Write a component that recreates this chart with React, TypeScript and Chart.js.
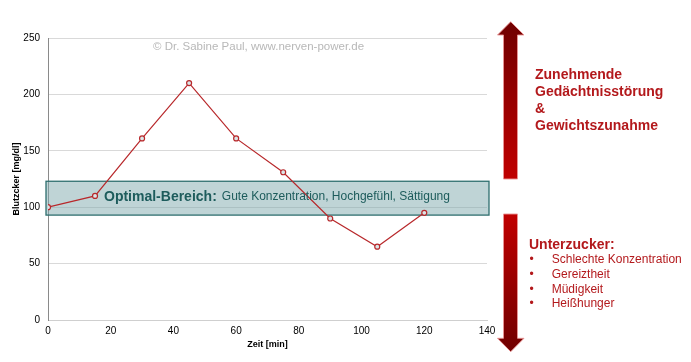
import React, { useEffect, useRef } from "react";
import { Chart, registerables } from "chart.js";

Chart.register(...registerables);

const timeMin = [0, 15, 30, 45, 60, 75, 90, 105, 120];
const glucose = [100, 110, 161, 210, 161, 131, 90, 65, 95];
const optimalRange = [93, 123];
const optimalTitle = "Optimal-Bereich:";
const optimalText = "Gute Konzentration, Hochgefühl, Sättigung";
const watermark = "© Dr. Sabine Paul, www.nerven-power.de";
const upperLines = ["Zunehmende", "Gedächtnisstörung", "&", "Gewichtszunahme"];
const lowerTitle = "Unterzucker:";
const lowerItems = ["Schlechte Konzentration", "Gereiztheit", "Müdigkeit", "Heißhunger"];

const FONT = "'Liberation Sans', Arial, Helvetica, sans-serif";
const RED_TEXT = "#b3191c";

function drawArrow(ctx: CanvasRenderingContext2D, up: boolean, bodyTop: number, bodyBottom: number, tip: number) {
  const bl = 503.5, br = 517.5, hl = 497.5, hr = 524, cx = 510.7;
  ctx.save();
  ctx.beginPath();
  if (up) {
    ctx.moveTo(bl, bodyBottom);
    ctx.lineTo(bl, bodyTop);
    ctx.lineTo(hl, bodyTop);
    ctx.lineTo(cx, tip);
    ctx.lineTo(hr, bodyTop);
    ctx.lineTo(br, bodyTop);
    ctx.lineTo(br, bodyBottom);
  } else {
    ctx.moveTo(bl, bodyTop);
    ctx.lineTo(bl, bodyBottom);
    ctx.lineTo(hl, bodyBottom);
    ctx.lineTo(cx, tip);
    ctx.lineTo(hr, bodyBottom);
    ctx.lineTo(br, bodyBottom);
    ctx.lineTo(br, bodyTop);
  }
  ctx.closePath();
  const g = up
    ? ctx.createLinearGradient(0, tip, 0, bodyBottom)
    : ctx.createLinearGradient(0, bodyTop, 0, tip);
  if (up) {
    g.addColorStop(0, "#700000");
    g.addColorStop(1, "#c00000");
  } else {
    g.addColorStop(0, "#c00000");
    g.addColorStop(1, "#700000");
  }
  ctx.fillStyle = g;
  ctx.fill();
  ctx.strokeStyle = "rgba(235,150,150,0.9)";
  ctx.lineWidth = 1;
  ctx.stroke();
  ctx.restore();
}

const overlayPlugin = {
  id: "overlay",
  beforeDatasetsDraw(chart: any) {
    const { ctx, scales } = chart;
    const x0 = scales.x.getPixelForValue(0) - 2;
    const x1 = scales.x.getPixelForValue(140) + 2;
    const yTop = scales.y.getPixelForValue(optimalRange[1]);
    const yBot = scales.y.getPixelForValue(optimalRange[0]);
    ctx.save();
    ctx.fillStyle = "rgba(127,170,173,0.5)";
    ctx.fillRect(x0, yTop, x1 - x0, yBot - yTop);
    ctx.strokeStyle = "#2f6f6f";
    ctx.lineWidth = 1.3;
    ctx.strokeRect(x0, yTop, x1 - x0, yBot - yTop);
    ctx.restore();
  },
  afterDatasetsDraw(chart: any) {
    const { ctx, scales } = chart;
    const yTop = scales.y.getPixelForValue(optimalRange[1]);
    const yBot = scales.y.getPixelForValue(optimalRange[0]);
    const yMid = (yTop + yBot) / 2 - 1;
    ctx.save();
    ctx.textBaseline = "middle";
    ctx.textAlign = "left";
    ctx.fillStyle = "#1d5c5c";
    ctx.font = `bold 14px ${FONT}`;
    ctx.fillText(optimalTitle, 104, yMid);
    const w = ctx.measureText(optimalTitle).width;
    ctx.font = `12px ${FONT}`;
    ctx.fillText(optimalText, 104 + w + 5, yMid);

    ctx.fillStyle = "#b8b8b8";
    ctx.font = `11.5px ${FONT}`;
    ctx.fillText(watermark, 153, 47);

    drawArrow(ctx, true, 35, 179, 21.7);
    drawArrow(ctx, false, 214, 338.3, 351.7);

    ctx.fillStyle = RED_TEXT;
    ctx.font = `bold 14px ${FONT}`;
    upperLines.forEach((t, i) => ctx.fillText(t, 535, 75 + i * 17));
    ctx.fillText(lowerTitle, 529, 245);
    ctx.font = `12px ${FONT}`;
    lowerItems.forEach((t, i) => {
      const y = 260 + i * 14.7;
      ctx.fillText("•", 529.5, y);
      ctx.fillText(t, 551.7, y);
    });
    ctx.restore();
  },
};

export default function App() {
  const ref = useRef<HTMLCanvasElement | null>(null);
  useEffect(() => {
    document.body.style.margin = "0";
    if (!ref.current) return;
    Chart.defaults.font.family = FONT;
    const chart = new Chart(ref.current, {
      type: "line",
      data: {
        datasets: [
          {
            data: timeMin.map((t, i) => ({ x: t, y: glucose[i] })),
            borderColor: "#b8282b",
            borderWidth: 1.2,
            pointRadius: 2.5,
            pointBorderWidth: 1.2,
            pointBorderColor: "#b8282b",
            pointBackgroundColor: "#dbe5e7",
            tension: 0,
          },
        ],
      },
      options: {
        responsive: false,
        animation: false,
        layout: { padding: { left: 0, right: 204, top: 38, bottom: 0 } },
        plugins: { legend: { display: false }, tooltip: { enabled: false } },
        scales: {
          x: {
            type: "linear",
            min: 0,
            max: 140,
            ticks: { stepSize: 20, color: "#000", font: { size: 10 }, padding: 5 },
            grid: { display: false, drawTicks: false },
            border: { color: "#cfcfcf", width: 1 },
            title: { display: true, text: "Zeit [min]", color: "#000", font: { size: 9, weight: "bold" }, padding: { top: 0, bottom: 12.5 } },
            afterFit: (s: any) => { s.height = 42; },
          },
          y: {
            min: 0,
            max: 250,
            ticks: { stepSize: 50, color: "#000", font: { size: 10 }, padding: 8 },
            grid: { color: "#d9d9d9", drawTicks: false },
            border: { color: "#8a8a8a", width: 1 },
            title: { display: true, text: "Blutzcker [mg/dl]", color: "#000", font: { size: 9, weight: "bold" }, padding: { top: 11.5, bottom: 0 } },
            afterFit: (s: any) => { s.width = 48; },
          },
        },
      },
      plugins: [overlayPlugin],
    } as any);
    return () => chart.destroy();
  }, []);
  return (
    <div style={{ position: "absolute", left: 0, top: 0, width: 691, height: 362, background: "#fff" }}>
      <canvas ref={ref} width={691} height={362} style={{ display: "block", width: 691, height: 362 }} />
    </div>
  );
}
